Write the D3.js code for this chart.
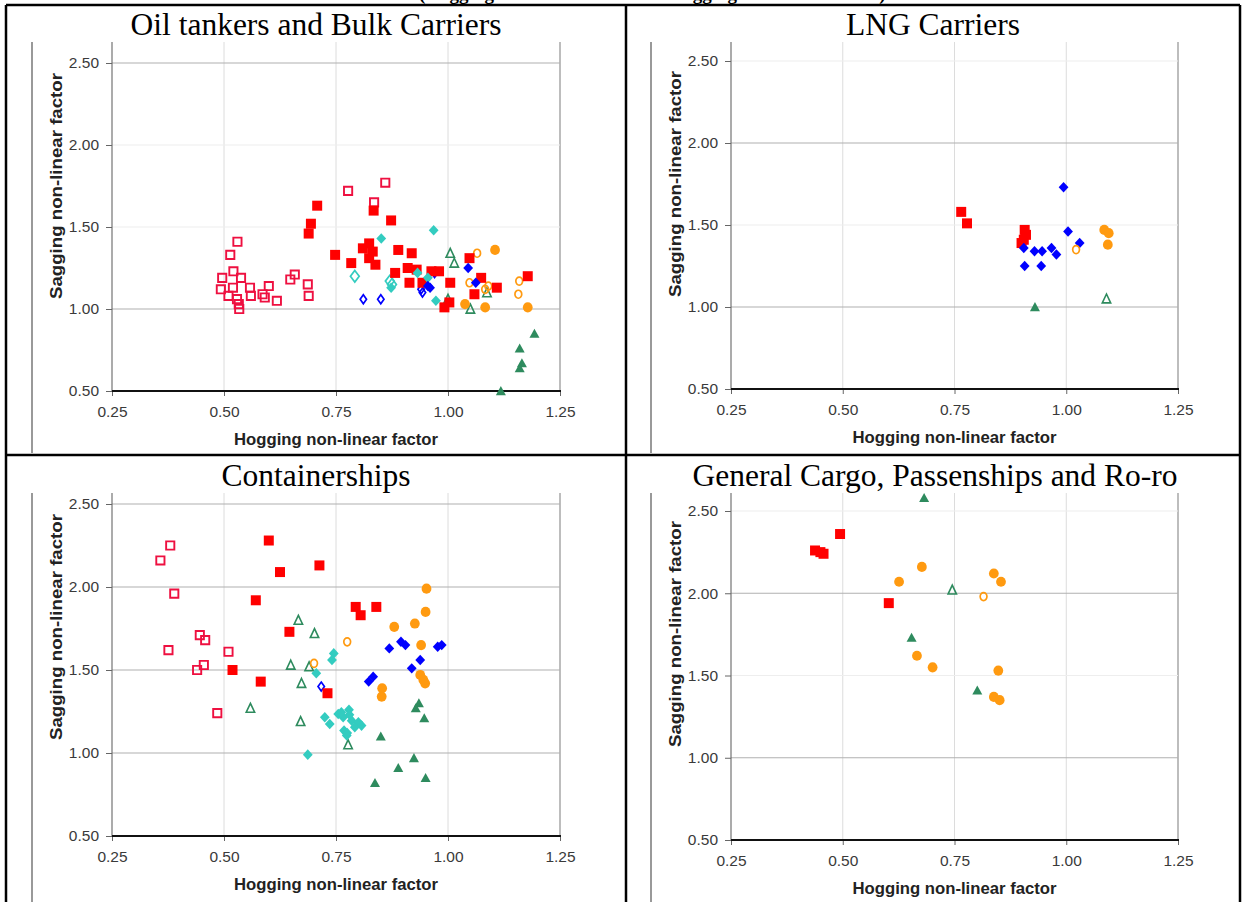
<!DOCTYPE html>
<html><head><meta charset="utf-8">
<script src="https://cdn.jsdelivr.net/npm/d3@7"></script>
<style>body{margin:0;background:#fff}svg{display:block}</style>
</head><body>
<svg id="c" width="1243" height="902"></svg>
<script>
// ---------- DATA ----------
const xTicks = [0.25, 0.50, 0.75, 1.00, 1.25];
const yTicks = [0.50, 1.00, 1.50, 2.00, 2.50];
const panelTitles = ["Oil tankers and Bulk Carriers", "LNG Carriers", "Containerships", "General Cargo, Passenships and Ro-ro"];
const xAxisTitle = "Hogging non-linear factor";
const yAxisTitle = "Sagging non-linear factor";
const pageHeading = "(Hogging non-linear factor and sagging non-linear factor)";

// Panel 1: Oil tankers and Bulk Carriers  [hogging, sagging]
const oilRedOpen = [[0.530,1.41],[0.514,1.33],[0.521,1.23],[0.496,1.19],[0.538,1.19],[0.493,1.12],[0.510,1.08],[0.520,1.13],[0.529,1.06],[0.533,1.03],[0.534,1.00],[0.558,1.13],[0.560,1.08],[0.586,1.09],[0.591,1.07],[0.600,1.14],[0.618,1.05],[0.648,1.18],[0.658,1.21],[0.687,1.15],[0.689,1.08],[0.777,1.72],[0.835,1.65],[0.860,1.77]];
const oilRedFilled = [[0.708,1.63],[0.694,1.52],[0.689,1.46],[0.748,1.33],[0.784,1.28],[0.834,1.60],[0.873,1.54],[0.810,1.37],[0.824,1.40],[0.832,1.35],[0.824,1.31],[0.838,1.27],[0.889,1.36],[0.882,1.22],[0.910,1.25],[0.914,1.16],[0.919,1.34],[0.930,1.24],[0.943,1.16],[0.963,1.23],[0.980,1.23],[1.005,1.16],[0.992,1.01],[1.003,1.04],[1.048,1.31],[1.074,1.19],[1.059,1.09],[1.109,1.13],[1.178,1.20]];
const oilCyanFilled = [[0.851,1.43],[0.968,1.48],[0.932,1.22],[0.973,1.05],[0.873,1.13],[0.955,1.19]];
const oilCyanOpen = [[0.792,1.20],[0.870,1.17],[0.875,1.15]];
const oilBlueFilled = [[0.960,1.13],[1.045,1.25],[1.062,1.16],[0.955,1.14]];
const oilBlueOpen = [[0.811,1.06],[0.850,1.06],[0.970,1.22],[0.943,1.10],[0.940,1.12]];
const oilOrangeFilled = [[1.105,1.36],[1.038,1.03],[1.083,1.01],[1.178,1.01]];
const oilOrangeOpen = [[1.065,1.34],[1.048,1.16],[1.083,1.12],[1.159,1.17],[1.157,1.09],[1.090,1.14]];
const oilGreenFilled = [[1.193,0.85],[1.160,0.76],[1.165,0.67],[1.160,0.64],[1.118,0.50]];
const oilGreenOpen = [[1.005,1.34],[1.014,1.28],[1.000,1.06],[1.050,1.00],[1.087,1.10]];

// Panel 2: LNG Carriers
const lngRedFilled = [[0.765,1.58],[0.778,1.51],[0.907,1.47],[0.910,1.44],[0.905,1.41],[0.900,1.39]];
const lngBlueFilled = [[0.994,1.73],[1.004,1.46],[1.030,1.39],[0.905,1.36],[0.929,1.34],[0.946,1.34],[0.967,1.36],[0.978,1.32],[0.907,1.25],[0.944,1.25]];
const lngOrangeFilled = [[1.085,1.47],[1.095,1.45],[1.093,1.38]];
const lngOrangeOpen = [[1.022,1.35]];
const lngGreenFilled = [[0.930,1.00]];
const lngGreenOpen = [[1.090,1.05]];

// Panel 3: Containerships
const conRedOpen = [[0.380,2.25],[0.358,2.16],[0.389,1.96],[0.376,1.62],[0.446,1.71],[0.458,1.68],[0.440,1.50],[0.455,1.53],[0.510,1.61],[0.485,1.24]];
const conRedFilled = [[0.600,2.28],[0.625,2.09],[0.713,2.13],[0.571,1.92],[0.646,1.73],[0.519,1.50],[0.582,1.43],[0.731,1.36],[0.794,1.88],[0.805,1.83],[0.840,1.88]];
const conGreenOpen = [[0.666,1.80],[0.702,1.72],[0.649,1.53],[0.690,1.52],[0.673,1.42],[0.559,1.27],[0.671,1.19],[0.777,1.05]];
const conOrangeOpen = [[0.775,1.67],[0.701,1.54]];
const conBlueOpen = [[0.717,1.40]];
const conCyanFilled = [[0.745,1.60],[0.741,1.56],[0.706,1.48],[0.687,0.99],[0.725,1.215],[0.736,1.175],[0.755,1.235],[0.766,1.215],[0.779,1.26],[0.785,1.195],[0.768,1.135],[0.774,1.105],[0.800,1.185],[0.807,1.165],[0.792,1.155],[0.762,1.245],[0.775,1.12],[0.780,1.23]];
const conBlueFilled = [[0.869,1.63],[0.895,1.67],[0.905,1.65],[0.919,1.51],[0.938,1.56],[0.977,1.64],[0.986,1.65],[0.823,1.43],[0.833,1.46]];
const conOrangeFilled = [[0.952,1.99],[0.950,1.85],[0.880,1.76],[0.926,1.78],[0.940,1.65],[0.938,1.47],[0.949,1.42],[0.945,1.44],[0.853,1.39],[0.852,1.34]];
const conGreenFilled = [[0.935,1.30],[0.928,1.27],[0.947,1.21],[0.850,1.10],[0.924,0.97],[0.889,0.91],[0.837,0.82],[0.950,0.85]];

// Panel 4: General Cargo, Passenships and Ro-ro
const genRedFilled = [[0.494,2.36],[0.438,2.26],[0.450,2.25],[0.457,2.24],[0.603,1.94]];
const genOrangeFilled = [[0.626,2.07],[0.677,2.16],[0.838,2.12],[0.854,2.07],[0.666,1.62],[0.701,1.55],[0.848,1.53],[0.838,1.37],[0.851,1.35]];
const genGreenFilled = [[0.682,2.58],[0.654,1.73],[0.801,1.41]];
const genGreenOpen = [[0.745,2.02]];
const genOrangeOpen = [[0.815,1.98]];

// ---------- STYLES ----------
const RED = "#ff0000", CRIM = "#ee1040", CYAN = "#33ccc0", BLUE = "#0000ff", ORANGE = "#ff9a10", GREEN = "#2e8b5e";
const S = {
  redOpen:      {shape:"square",  size:[4.1,4.1], fill:"#fff", stroke:CRIM, sw:1.9},
  redFilled:    {shape:"square",  size:[5.0,5.0], fill:RED, stroke:"none"},
  cyanFilled:   {shape:"diamond", size:[4.9,5.3], fill:CYAN, stroke:"none"},
  cyanOpen:     {shape:"diamond", size:[4.4,5.8], fill:"#fff", stroke:CYAN, sw:1.7},
  blueFilled:   {shape:"diamond", size:[4.9,5.2], fill:BLUE, stroke:"none"},
  blueOpen:     {shape:"diamond", size:[3.2,4.5], fill:"#fff", stroke:BLUE, sw:1.7},
  orangeFilled: {shape:"circle",  size:[4.9,5.1], fill:ORANGE, stroke:"none"},
  orangeOpen:   {shape:"circle",  size:[3.4,4.0], fill:"#fff", stroke:ORANGE, sw:1.7},
  greenFilled:  {shape:"triangle",size:[5.0,4.9], fill:GREEN, stroke:"none"},
  greenOpen:    {shape:"triangle",size:[4.2,4.8], fill:"#fff", stroke:GREEN, sw:1.6}
};
function shapePath(shape, w, h) {
  if (shape === "square") return `M${-w},${-h}H${w}V${h}H${-w}Z`;
  if (shape === "diamond") return `M0,${-h}L${w},0L0,${h}L${-w},0Z`;
  if (shape === "triangle") return `M0,${-h}L${w},${h*0.85}L${-w},${h*0.85}Z`;
  return `M${-w},0A${w},${h} 0 1,0 ${w},0A${w},${h} 0 1,0 ${-w},0Z`;
}

const panels = [
  {title:panelTitles[0], cx:316, titleY:35, x0:112, x1:560, yB:391, yT:63, imgL:32, imgT:42, imgB:453, strong:[1.0,2.5],
   series:[["redOpen",oilRedOpen],["cyanOpen",oilCyanOpen],["blueOpen",oilBlueOpen],["greenOpen",oilGreenOpen],["orangeOpen",oilOrangeOpen],["redFilled",oilRedFilled],["cyanFilled",oilCyanFilled],["blueFilled",oilBlueFilled],["orangeFilled",oilOrangeFilled],["greenFilled",oilGreenFilled]]},
  {title:panelTitles[1], cx:933, titleY:35, x0:731, x1:1178, yB:389, yT:61, imgL:651, imgT:42, imgB:453, strong:[1.0,2.0],
   series:[["redFilled",lngRedFilled],["blueFilled",lngBlueFilled],["orangeFilled",lngOrangeFilled],["orangeOpen",lngOrangeOpen],["greenFilled",lngGreenFilled],["greenOpen",lngGreenOpen]]},
  {title:panelTitles[2], cx:316, titleY:486, x0:112, x1:560, yB:836, yT:504, imgL:32, imgT:493, imgB:902, strong:[1.0,1.5,2.0,2.5],
   series:[["redOpen",conRedOpen],["greenOpen",conGreenOpen],["orangeOpen",conOrangeOpen],["blueOpen",conBlueOpen],["redFilled",conRedFilled],["cyanFilled",conCyanFilled],["blueFilled",conBlueFilled],["orangeFilled",conOrangeFilled],["greenFilled",conGreenFilled]]},
  {title:panelTitles[3], cx:935, titleY:486, x0:731, x1:1178, yB:840, yT:511, imgL:651, imgT:493, imgB:902, strong:[1.0,2.0],
   series:[["redFilled",genRedFilled],["greenFilled",genGreenFilled],["orangeFilled",genOrangeFilled],["greenOpen",genGreenOpen],["orangeOpen",genOrangeOpen]]}
];

const svg = d3.select("#c");
svg.append("rect").attr("width",1243).attr("height",902).attr("fill","#fff");

// page heading, cut off by the top edge as in the source page
svg.append("text").attr("x",419).attr("y",0).attr("font-family","'Liberation Serif','Times New Roman',serif")
  .attr("font-weight","bold").attr("font-size",19).attr("fill","#000").text(pageHeading);

panels.forEach(p => {
  const g = svg.append("g");
  const x = d3.scaleLinear().domain([0.25,1.25]).range([p.x0,p.x1]);
  const y = d3.scaleLinear().domain([0.5,2.5]).range([p.yB,p.yT]);

  g.append("line").attr("x1",p.imgL).attr("x2",p.imgL).attr("y1",p.imgT).attr("y2",p.imgB).attr("stroke","#555").attr("stroke-width",1.2);

  g.selectAll(".vg").data(xTicks.slice(1)).join("line")
    .attr("x1",d=>x(d)).attr("x2",d=>x(d)).attr("y1",p.imgT).attr("y2",p.yB)
    .attr("stroke",d=>d===1.25?"#9a9a9a":"#dcdcdc").attr("stroke-width",d=>d===1.25?1.3:1);
  g.selectAll(".hg").data(yTicks.slice(1)).join("line")
    .attr("x1",p.x0).attr("x2",p.x1).attr("y1",d=>y(d)).attr("y2",d=>y(d))
    .attr("stroke",d=>p.strong.includes(d)?"#b0b0b0":"#eeeeee").attr("stroke-width",1.2);

  const ax = g.append("g").attr("transform",`translate(0,${p.yB})`)
    .call(d3.axisBottom(x).tickValues(xTicks).tickFormat(d3.format(".2f")).tickSize(5).tickPadding(10));
  const ay = g.append("g").attr("transform",`translate(${p.x0},0)`)
    .call(d3.axisLeft(y).tickValues(yTicks).tickFormat(d3.format(".2f")).tickSize(6).tickPadding(7));
  [ax,ay].forEach(a => {
    a.select(".domain").remove();
    a.selectAll(".tick line").attr("stroke","#666");
    a.selectAll("text").attr("font-family","'Liberation Sans',Arial,sans-serif").attr("font-size",15.5).attr("fill","#3a3a3a");
  });
  g.append("line").attr("x1",p.x0).attr("x2",p.x0).attr("y1",p.imgT).attr("y2",p.yB).attr("stroke","#666").attr("stroke-width",1.1);
  g.append("line").attr("x1",p.x0).attr("x2",p.x1+1).attr("y1",p.yB).attr("y2",p.yB).attr("stroke","#111").attr("stroke-width",2);

  g.append("text").attr("x",(p.x0+p.x1)/2).attr("y",p.yB+54).attr("text-anchor","middle")
    .attr("font-family","'Liberation Sans',Arial,sans-serif").attr("font-weight","bold").attr("font-size",16)
    .attr("fill","#222").attr("textLength",204).attr("lengthAdjust","spacingAndGlyphs").text(xAxisTitle);
  g.append("text").attr("transform",`translate(${p.x0-50},${p.yT+123}) rotate(-90)`).attr("text-anchor","middle")
    .attr("font-family","'Liberation Sans',Arial,sans-serif").attr("font-weight","bold").attr("font-size",16.5)
    .attr("fill","#222").attr("textLength",226).attr("lengthAdjust","spacingAndGlyphs").text(yAxisTitle);

  p.series.forEach(([key, data]) => {
    const st = S[key];
    g.append("g").selectAll("path").data(data).join("path")
      .attr("d", shapePath(st.shape, st.size[0], st.size[1])).attr("transform", v => `translate(${x(v[0])},${y(v[1])})`)
      .attr("fill", st.fill === "#fff" ? "none" : st.fill).attr("stroke", st.stroke).attr("stroke-width", st.sw || 0);
  });

  svg.append("text").attr("x",p.cx).attr("y",p.titleY).attr("text-anchor","middle")
    .attr("font-family","'Liberation Serif','Times New Roman',serif").attr("font-size",31.5).attr("fill","#000").text(p.title);
});

const T = svg.append("g").attr("stroke","#000").attr("stroke-width",2.5);
[[6,5,1240,5],[6,455,1240,455],[6,5,6,902],[626,5,626,902],[1240,5,1240,902]].forEach(l =>
  T.append("line").attr("x1",l[0]).attr("y1",l[1]).attr("x2",l[2]).attr("y2",l[3]));
</script>
</body></html>
